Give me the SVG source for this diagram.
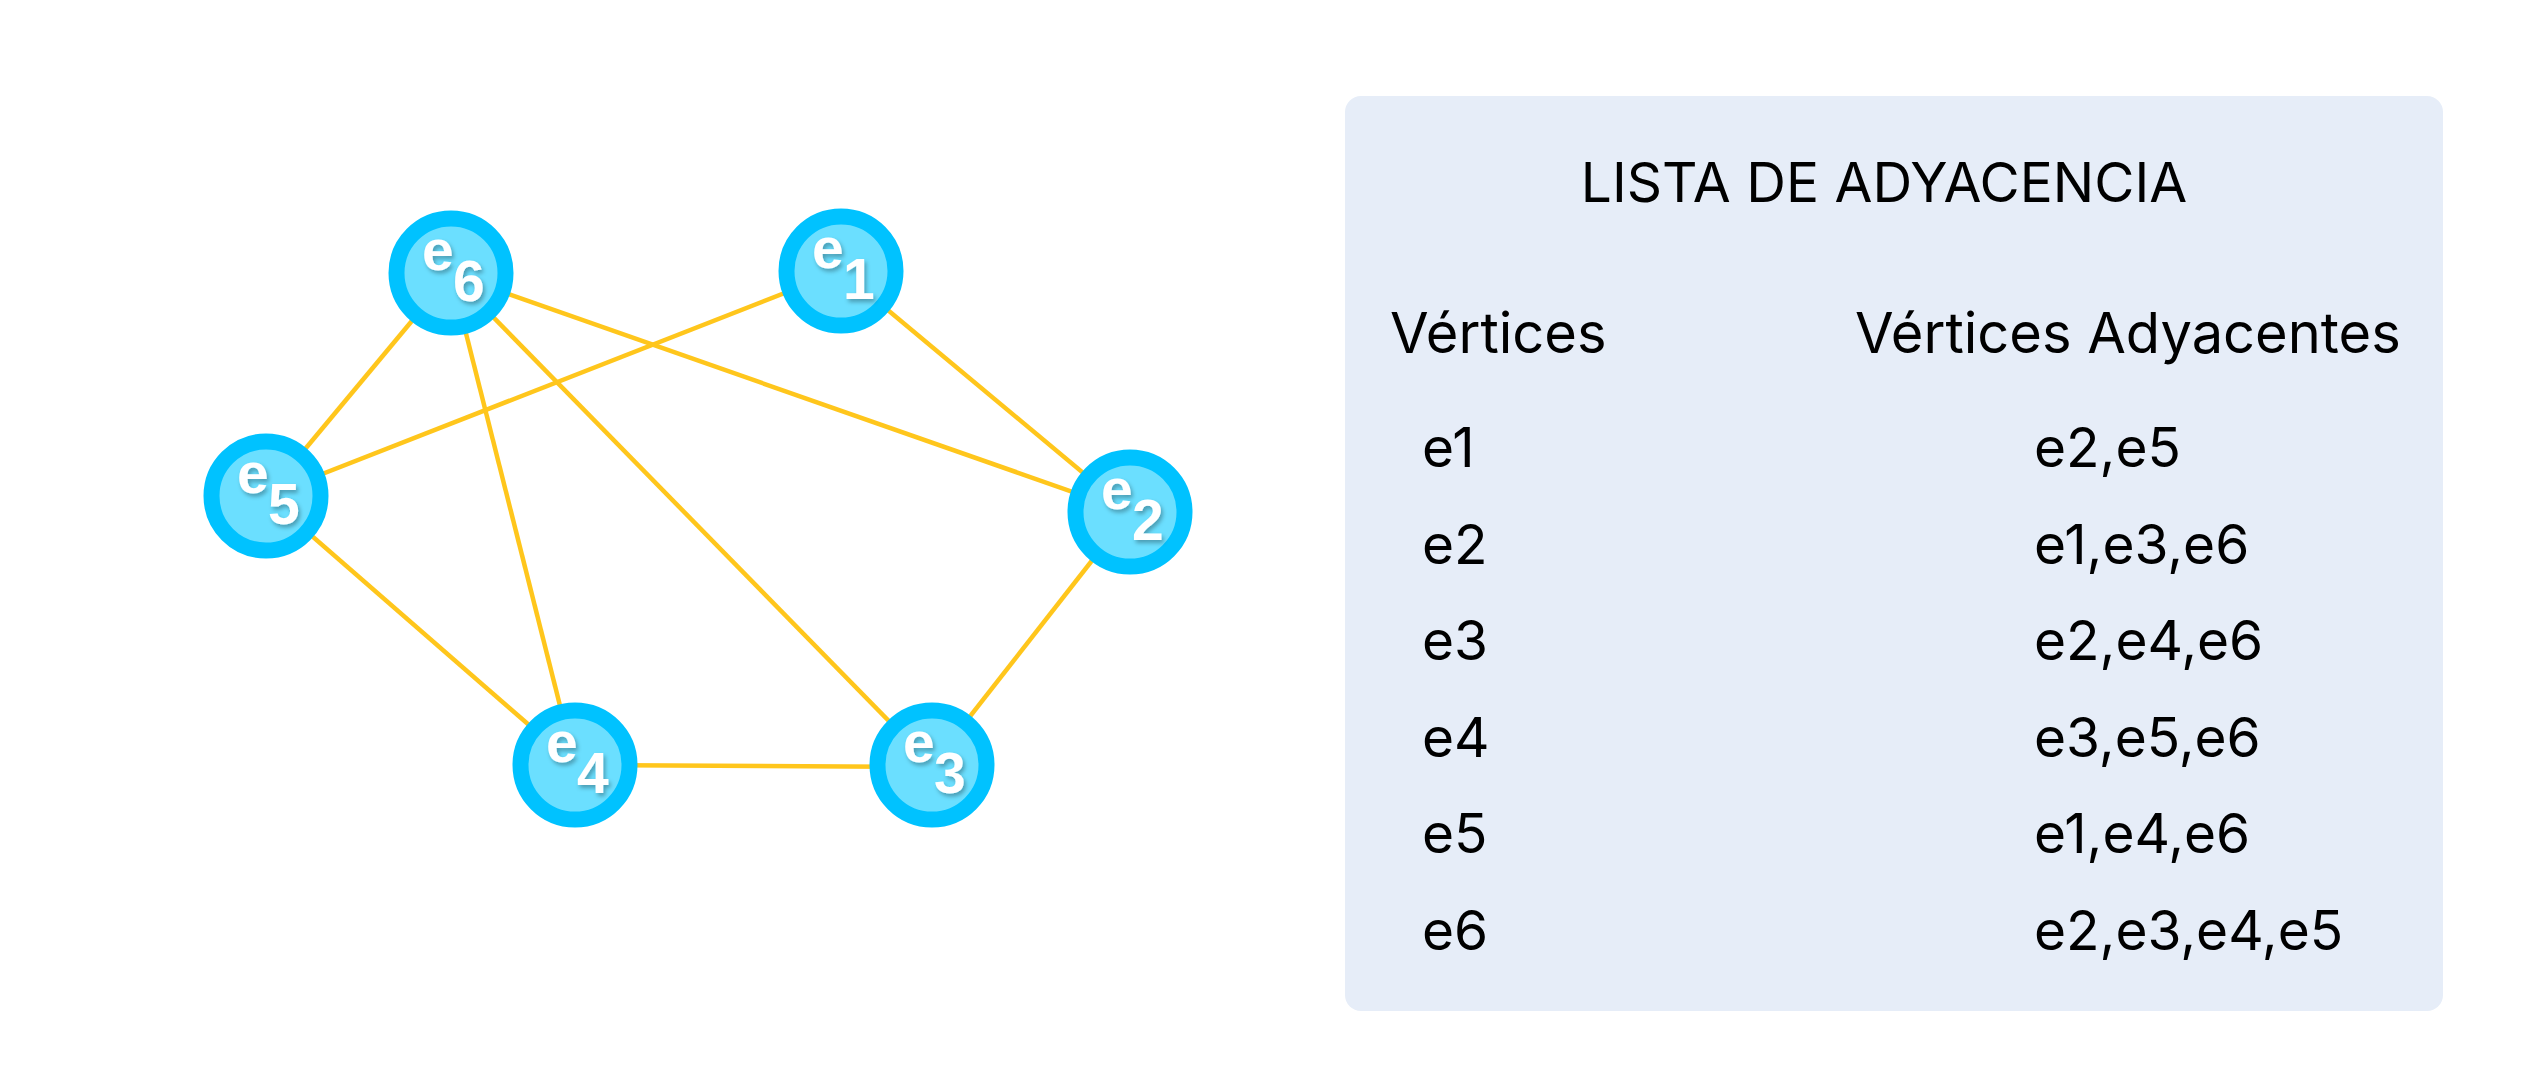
<svg xmlns="http://www.w3.org/2000/svg" width="2525" height="1075" viewBox="0 0 2525 1075">
<defs>
<style>
.edge{stroke:#FFC61C;stroke-width:4.5;fill:none}
.node circle{fill:#6BDFFF;stroke:#00C2FF;stroke-width:16}
.lbl{font-family:"Liberation Sans",Arial,sans-serif;font-weight:bold;font-size:57px;fill:#FFFFFF;filter:url(#sh)}
.t{font-family:Inter,"Noto Sans",sans-serif;fill:#000000}
.title{font-size:55px}
.head{font-size:56px}
.row{font-size:55px}
</style>
<filter id="sh" x="-30%" y="-30%" width="160%" height="160%">
<feDropShadow dx="2" dy="3" stdDeviation="2" flood-color="#000000" flood-opacity="0.3"/>
</filter>
</defs>
<rect width="2525" height="1075" fill="#FFFFFF"/>
<g id="connectors">
<line class="edge" x1="451" y1="274" x2="266" y2="496"/>
<line class="edge" x1="451" y1="274" x2="1130" y2="512"/>
<line class="edge" x1="451" y1="274" x2="575" y2="765"/>
<line class="edge" x1="451" y1="274" x2="932" y2="765"/>
<line class="edge" x1="841" y1="271" x2="266" y2="496"/>
<line class="edge" x1="841" y1="271" x2="1130" y2="512"/>
<line class="edge" x1="1130" y1="512" x2="932" y2="765"/>
<line class="edge" x1="932" y1="767" x2="575" y2="765"/>
<line class="edge" x1="575" y1="765" x2="266" y2="496"/>
</g>
<g id="e1" class="node"><circle cx="841" cy="271" r="54.5"/><text class="lbl" x="812" y="268">e</text><text class="lbl" x="843" y="299">1</text></g>
<g id="e2" class="node"><circle cx="1130" cy="512" r="54.5"/><text class="lbl" x="1101" y="509">e</text><text class="lbl" x="1132" y="540">2</text></g>
<g id="e3" class="node"><circle cx="932" cy="765" r="54.5"/><text class="lbl" x="903" y="762">e</text><text class="lbl" x="934" y="793">3</text></g>
<g id="e4" class="node"><circle cx="575" cy="765" r="54.5"/><text class="lbl" x="546" y="762">e</text><text class="lbl" x="577" y="793">4</text></g>
<g id="e5" class="node"><circle cx="266" cy="496" r="54.5"/><text class="lbl" x="237" y="493">e</text><text class="lbl" x="268" y="524">5</text></g>
<g id="e6" class="node"><circle cx="451" cy="273" r="54.5"/><text class="lbl" x="422" y="270">e</text><text class="lbl" x="453" y="301">6</text></g>
<g id="panel">
<rect x="1345" y="96" width="1098" height="915" rx="16" fill="#E6EDF8"/>
<text class="t title" x="1884" y="202" text-anchor="middle">LISTA DE ADYACENCIA</text>
<text class="t head" x="1390" y="353">Vértices</text>
<text class="t head" x="1855" y="353">Vértices Adyacentes</text>
<text class="t row" x="1422" y="467">e1</text><text class="t row" x="2034" y="467">e2,e5</text>
<text class="t row" x="1422" y="564">e2</text><text class="t row" x="2034" y="564">e1,e3,e6</text>
<text class="t row" x="1422" y="660">e3</text><text class="t row" x="2034" y="660">e2,e4,e6</text>
<text class="t row" x="1422" y="757">e4</text><text class="t row" x="2034" y="757">e3,e5,e6</text>
<text class="t row" x="1422" y="853">e5</text><text class="t row" x="2034" y="853">e1,e4,e6</text>
<text class="t row" x="1422" y="950">e6</text><text class="t row" x="2034" y="950">e2,e3,e4,e5</text>
</g>
</svg>
